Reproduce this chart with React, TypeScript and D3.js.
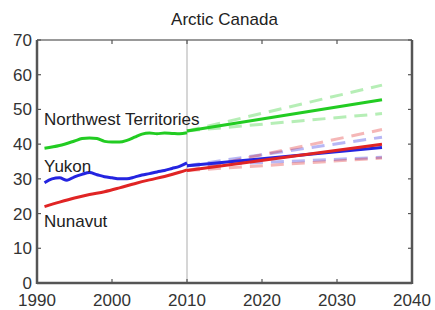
import React from "react";
import * as d3 from "d3";

// observed annual values (1991-2010)
const nwtYears = [1991, 1993, 1995, 1996, 1997, 1998, 1999, 2000, 2001, 2002, 2003, 2004, 2005, 2006, 2007, 2008, 2009, 2010];
const nwtValues = [38.8, 39.6, 40.9, 41.6, 41.8, 41.6, 40.8, 40.6, 40.6, 41.1, 42.0, 42.9, 43.2, 43.0, 43.2, 43.1, 43.0, 43.3];

const yukonYears = [1991, 1992, 1993, 1994, 1995, 1996, 1997, 1998, 1999, 2000, 2001, 2002, 2003, 2004, 2005, 2006, 2007, 2008, 2009, 2010];
const yukonValues = [28.9, 30.0, 30.3, 29.6, 30.6, 31.3, 31.8, 31.2, 30.6, 30.3, 30.0, 30.0, 30.5, 31.1, 31.5, 32.0, 32.4, 33.0, 33.6, 34.6];

const nunavutYears = [1991, 1993, 1995, 1997, 1999, 2001, 2003, 2005, 2007, 2009, 2010];
const nunavutValues = [22.0, 23.3, 24.5, 25.5, 26.3, 27.4, 28.6, 29.7, 30.7, 31.9, 32.6];

// projections 2010 -> 2036: [start, medium, high, low]
const projYears = [2010, 2036];
const nwtProj = [43.8, 52.8, 57.0, 48.8];
const yukonProj = [33.8, 39.0, 42.0, 36.2];
const nunavutProj = [32.4, 40.0, 44.2, 36.0];

const xTicks = [1990, 2000, 2010, 2020, 2030, 2040];
const yTicks = [0, 10, 20, 30, 40, 50, 60, 70];

const colors = { nwt: "#22cc22", yukon: "#2424e0", nunavut: "#e02424" };

const W = 435;
const H = 310;
const margin = { left: 37, right: 23, top: 40, bottom: 27 };

const App: React.FC = () => {
  const x = d3.scaleLinear().domain([1990, 2040]).range([margin.left, W - margin.right]);
  const y = d3.scaleLinear().domain([0, 70]).range([H - margin.bottom, margin.top]);
  const line = d3
    .line<[number, number]>()
    .x((d) => x(d[0]))
    .y((d) => y(d[1]))
    .curve(d3.curveMonotoneX);

  const zip = (xs: number[], vs: number[]) => xs.map((v, i) => [v, vs[i]] as [number, number]);

  const series = [
    { key: "nwt", years: nwtYears, values: nwtValues, proj: nwtProj },
    { key: "yukon", years: yukonYears, values: yukonValues, proj: yukonProj },
    { key: "nunavut", years: nunavutYears, values: nunavutValues, proj: nunavutProj },
  ];

  const font = "'Liberation Sans', Arial, sans-serif";
  const fs = 17;
  const x0 = x(1990);
  const x1 = x(2040);
  const y0 = y(0);
  const y1 = y(70);

  return (
    <svg width={W} height={H} style={{ position: "absolute", left: 0, top: 0 }} fontFamily={font}>
      <rect width={W} height={H} fill="#fff" />
      <text x={(x0 + x1) / 2} y={25} textAnchor="middle" fontSize={fs} fill="#222">
        Arctic Canada
      </text>
      {/* 2010 divider */}
      <line x1={x(2010)} x2={x(2010)} y1={y0} y2={y1} stroke="#bbb" strokeWidth={1.2} />

      {/* dashed projections */}
      {series.map((s) =>
        [2, 3].map((k) => (
          <path
            key={s.key + k}
            d={line(zip(projYears, [s.proj[0], s.proj[k]])) || ""}
            fill="none"
            stroke={colors[s.key as keyof typeof colors]}
            strokeOpacity={0.33}
            strokeWidth={3}
            strokeDasharray="13,8"
          />
        ))
      )}
      {/* observed + median */}
      {series.map((s) => (
        <g key={s.key}>
          <path
            d={line(zip(s.years, s.values)) || ""}
            fill="none"
            stroke={colors[s.key as keyof typeof colors]}
            strokeWidth={3}
          />
          <path
            d={line(zip(projYears, [s.proj[0], s.proj[1]])) || ""}
            fill="none"
            stroke={colors[s.key as keyof typeof colors]}
            strokeWidth={3}
          />
        </g>
      ))}

      {/* labels */}
      <text x={44} y={125} fontSize={fs} fill="#222">Northwest Territories</text>
      <text x={44} y={172} fontSize={fs} fill="#222">Yukon</text>
      <text x={44} y={227} fontSize={fs} fill="#222">Nunavut</text>

      {/* axes box */}
      <line x1={x0} x2={x1} y1={y1} y2={y1} stroke="#777" strokeWidth={1.5} />
      <line x1={x0} x2={x1} y1={y0} y2={y0} stroke="#555" strokeWidth={2.5} />
      <line x1={x0} x2={x0} y1={y0 + 1} y2={y1} stroke="#555" strokeWidth={2.5} />
      <line x1={x1} x2={x1} y1={y0 + 1} y2={y1} stroke="#555" strokeWidth={2.5} />

      {xTicks.map((t) => (
        <g key={"x" + t}>
          <line x1={x(t)} x2={x(t)} y1={y0} y2={y0 - 4} stroke="#555" strokeWidth={1.2} />
          <line x1={x(t)} x2={x(t)} y1={y1} y2={y1 + 4} stroke="#555" strokeWidth={1.2} />
          <text x={x(t)} y={y0 + 23} textAnchor="middle" fontSize={fs} fill="#333">
            {t}
          </text>
        </g>
      ))}
      {yTicks.map((t) => (
        <g key={"y" + t}>
          <line x1={x0} x2={x0 + 4} y1={y(t)} y2={y(t)} stroke="#555" strokeWidth={1.2} />
          <line x1={x1} x2={x1 - 4} y1={y(t)} y2={y(t)} stroke="#555" strokeWidth={1.2} />
          <text x={x0 - 5} y={y(t) + 6} textAnchor="end" fontSize={fs} fill="#333">
            {t}
          </text>
        </g>
      ))}
    </svg>
  );
};

export default App;
